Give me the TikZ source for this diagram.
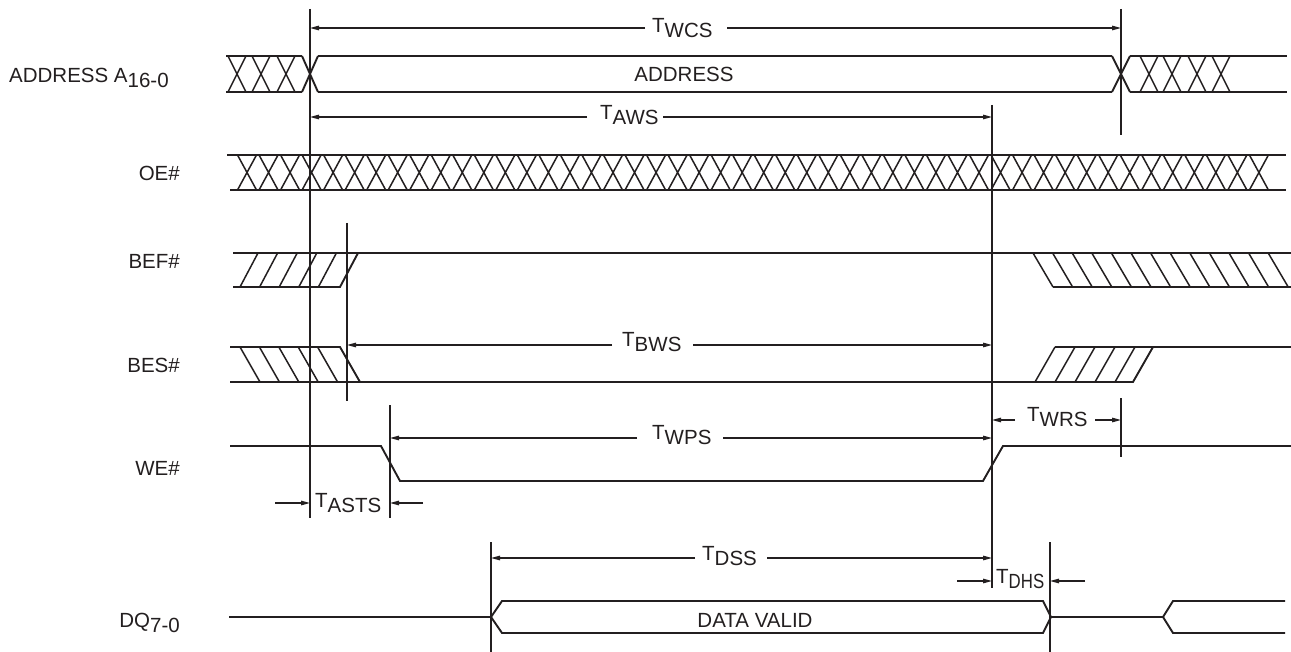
\documentclass[tikz,border=0pt]{standalone}
\usepackage{fontspec}
\setmainfont{Liberation Sans}
\usetikzlibrary{arrows.meta,calc}
\definecolor{ink}{RGB}{35,31,32}
\begin{document}
\begin{tikzpicture}[x=1pt,y=-1pt, color=ink,
  sig/.style={line width=1.9pt, line join=miter},
  hatch/.style={line width=1.5pt},
  vline/.style={line width=1.9pt},
  dim/.style={line width=1.3pt},
  dimarrow/.style={dim,-{Triangle[length=9pt,width=4.5pt]}},
  lab/.style={font=\fontsize{20.5}{24}\selectfont, inner sep=0pt, text=ink},
]
\useasboundingbox (0,0) rectangle (1291,652);
\fill[white] (0,0) rectangle (1291,652);

% ---------- signal names ----------
\node[lab,anchor=base west] (laddr) at (9,83) {ADDRESS A\raisebox{-5pt}{16-0}};
\node[lab,anchor=base east] (loe)  at (180,181) {OE\#};
\node[lab,anchor=base east] (lbef) at (180,269) {BEF\#};
\node[lab,anchor=base east] (lbes) at (180,373) {BES\#};
\node[lab,anchor=base east] (lwe)  at (180,475) {WE\#};
\node[lab,anchor=base east] (ldq)  at (180,627) {DQ\raisebox{-5pt}{7-0}};

% ---------- ADDRESS ----------
\draw[sig] (226,56) -- (302,56) (226,92) -- (302,92);
\draw[sig] (302,56) -- (318,92) (302,92) -- (318,56);
\draw[sig] (318,56) -- (1112,56) (318,92) -- (1112,92);
\draw[sig] (1112,56) -- (1130,92) (1112,92) -- (1130,56);
\draw[sig] (1130,56) -- (1287,56) (1130,92) -- (1287,92);
\foreach \c in {237,261,286,1149,1172,1197,1221}
  \draw[hatch] (\c-9,56) -- (\c+9,92) (\c-9,92) -- (\c+9,56);
\node[lab,anchor=base] (addrtxt) at (684,82) {ADDRESS};

% ---------- OE# ----------
\draw[sig] (227,155) -- (1286,155) (230,190) -- (1286,190);
\foreach \k in {0,...,47}
  \draw[hatch] ({247+21.53*\k-9.5},155) -- ({247+21.53*\k+9.5},190)
               ({247+21.53*\k-9.5},190) -- ({247+21.53*\k+9.5},155);

% ---------- BEF# ----------
\draw[sig] (233,253) -- (1291,253);
\draw[sig] (233,287) -- (340,287) -- (358,253);
\foreach \k in {0,...,4}
  \draw[hatch] ({240+19.6*\k},287) -- ({258+19.6*\k},253);
\draw[sig] (1053,287) -- (1291,287);
\foreach \k in {0,...,12}
  \draw[hatch] ({1033+19.6*\k},253) -- ({1053+19.6*\k},287);

% ---------- BES# ----------
\draw[sig] (230,347) -- (340,347) -- (360,382);
\draw[sig] (230,382) -- (1133,382) -- (1153,347);
\draw[sig] (1055,347) -- (1291,347);
\foreach \k in {0,...,4}
  \draw[hatch] ({240+19.4*\k},347) -- ({260+19.4*\k},382);
\foreach \k in {0,...,4}
  \draw[hatch] ({1035+20*\k},382) -- ({1055+20*\k},347);

% ---------- WE# ----------
\draw[sig] (230,446) -- (381,446) -- (400,481) -- (983,481) -- (1003,446) -- (1291,446);

% ---------- DQ ----------
\draw[sig] (229,617) -- (491,617);
\draw[sig] (491,617) -- (502,601) -- (1043,601) -- (1051,617) -- (1043,633) -- (502,633) -- cycle;
\draw[sig] (1051,617) -- (1163,617);
\draw[sig] (1285,601) -- (1173,601) -- (1163,617) -- (1173,633) -- (1285,633);
\node[lab,anchor=base] (dvtxt) at (755,627) {DATA VALID};

% ---------- reference lines ----------
\coordinate (vAt) at (310,9);   \coordinate (vAb) at (310,518);
\coordinate (vBt) at (1121,9);  \coordinate (vBb) at (1121,135);
\coordinate (vCt) at (992,105); \coordinate (vCb) at (992,588);
\coordinate (vDt) at (347,223); \coordinate (vDb) at (347,401);
\coordinate (vEt) at (390,405); \coordinate (vEb) at (390,518);
\coordinate (vFt) at (491,542); \coordinate (vFb) at (491,652);
\coordinate (vGt) at (1050,542);\coordinate (vGb) at (1050,652);
\coordinate (vHt) at (1121,398);\coordinate (vHb) at (1121,457);
\foreach \v in {A,B,C,D,E,F,G,H}
  \draw[vline] (v\v t) -- (v\v b);

% ---------- timing labels ----------
\node[lab,anchor=base west] (twcs)  at (652,33)  {T\raisebox{-5pt}{WCS}};
\node[lab,anchor=base west] (taws)  at (600,120) {T\raisebox{-5pt}{AWS}};
\node[lab,anchor=base west] (tbws)  at (622,347) {T\raisebox{-5pt}{BWS}};
\node[lab,anchor=base west] (twps)  at (652,439) {T\raisebox{-5pt}{WPS}};
\node[lab,anchor=base west] (tdss)  at (702,560) {T\raisebox{-5pt}{DSS}};
\node[lab,anchor=base west] (twrs)  at (1027,421) {T\raisebox{-5pt}{WRS}};
\node[lab,anchor=base west] (tdhs)  at (996,583) {T\raisebox{-5pt}{\scalebox{0.82}[1]{DHS}}};
\node[lab,anchor=base west] (tasts) at (315,507) {T\raisebox{-5pt}{ASTS}};

% ---------- dimension arrows ----------
\coordinate (wcsL) at (645,28);  \coordinate (wcsR) at (727,28);
\draw[dimarrow] (wcsL) -- (wcsL -| vAt);
\draw[dimarrow] (wcsR) -- (wcsR -| vBt);
\coordinate (awsL) at (587,117); \coordinate (awsR) at (663,117);
\draw[dimarrow] (awsL) -- (awsL -| vAt);
\draw[dimarrow] (awsR) -- (awsR -| vCt);
\coordinate (bwsL) at (612,345); \coordinate (bwsR) at (693,345);
\draw[dimarrow] (bwsL) -- (bwsL -| vDt);
\draw[dimarrow] (bwsR) -- (bwsR -| vCt);
\coordinate (wpsL) at (637,438); \coordinate (wpsR) at (723,438);
\draw[dimarrow] (wpsL) -- (wpsL -| vEt);
\draw[dimarrow] (wpsR) -- (wpsR -| vCt);
\coordinate (dssL) at (695,558); \coordinate (dssR) at (767,558);
\draw[dimarrow] (dssL) -- (dssL -| vFt);
\draw[dimarrow] (dssR) -- (dssR -| vCt);
\coordinate (wrsL) at (1015,420); \coordinate (wrsR) at (1095,420);
\draw[dimarrow] (wrsL) -- (wrsL -| vCt);
\draw[dimarrow] (wrsR) -- (wrsR -| vHt);
\coordinate (dhsL) at (957,581); \coordinate (dhsR) at (1085,581);
\draw[dimarrow] (dhsL) -- (dhsL -| vCt);
\draw[dimarrow] (dhsR) -- (dhsR -| vGt);
\coordinate (astsL) at (275,503); \coordinate (astsR) at (423,503);
\draw[dimarrow] (astsL) -- (astsL -| vAt);
\draw[dimarrow] (astsR) -- (astsR -| vEt);
\end{tikzpicture}
\end{document}
